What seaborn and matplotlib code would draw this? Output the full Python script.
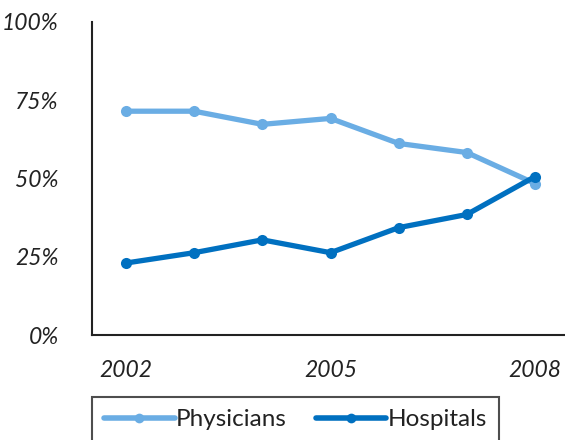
import matplotlib
matplotlib.use("Agg")
import matplotlib.pyplot as plt
import seaborn as sns
import pandas as pd

# data
years = [2002, 2003, 2004, 2005, 2006, 2007, 2008]
physicians = [71.5, 71.5, 67.3, 69.2, 61.2, 58.3, 48.4]
hospitals = [23.0, 26.3, 30.4, 26.3, 34.3, 38.5, 50.6]
series_names = ["Physicians", "Hospitals"]
colors = ["#6AADE4", "#0070C0"]

df = pd.DataFrame({
    "pos": list(range(len(years))) * 2,
    "value": physicians + hospitals,
    "series": [series_names[0]] * len(years) + [series_names[1]] * len(years),
})

sns.set_style("white")
plt.rcParams['font.family'] = ['Lato', 'DejaVu Sans']

fig = plt.figure(figsize=(5.65, 4.4), dpi=100)
ax = fig.add_axes([92 / 565, 1 - 335 / 440, (569 - 92) / 565, (335 - 22) / 440])

sns.lineplot(data=df, x="pos", y="value", hue="series", palette=colors,
             marker="o", markersize=8, markeredgewidth=0, linewidth=3.8,
             ax=ax, legend=False)

ax.set_xlim(-0.5, len(years) - 0.5)
ax.set_ylim(0, 100)
ax.set_yticks([0, 25, 50, 75, 100])
ax.set_yticklabels([f"{v}%" for v in [0, 25, 50, 75, 100]], fontsize=16.5, style="italic",
                   color="#222222")
ax.set_xticks([0, 3, 6])
ax.set_xticklabels([str(years[i]) for i in [0, 3, 6]], fontsize=16.5, style="italic",
                   color="#222222")
ax.tick_params(axis="y", length=0, pad=24)
ax.tick_params(axis="x", length=0, pad=18)
ax.set_xlabel("")
ax.set_ylabel("")

for s in ["top", "right"]:
    ax.spines[s].set_visible(False)
for s in ["left", "bottom"]:
    ax.spines[s].set_color("#222222")
    ax.spines[s].set_linewidth(1.5)

handles = [plt.Line2D([], [], color=c, linewidth=4, marker="o", markersize=7,
                      markeredgewidth=0) for c in colors]
leg = fig.legend(handles, series_names, loc="upper left",
                 bbox_to_anchor=(92 / 565, 1 - 397 / 440), ncol=2, fontsize=17.5,
                 frameon=True, fancybox=False, handlelength=2.9, handletextpad=0.05,
                 columnspacing=1.2, borderpad=0.5, borderaxespad=0)
leg.get_frame().set_edgecolor("#222222")
leg.get_frame().set_linewidth(1.5)
for t in leg.get_texts():
    t.set_color("#222222")

fig.savefig("out.png", dpi=100)
